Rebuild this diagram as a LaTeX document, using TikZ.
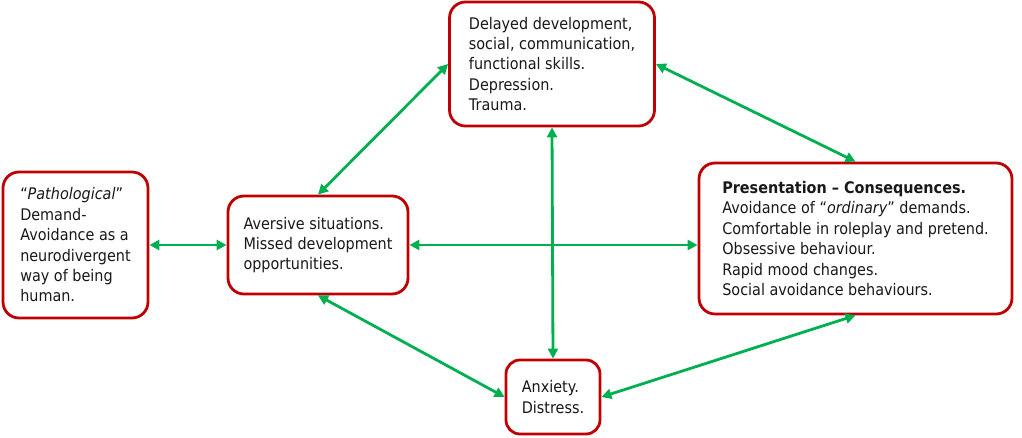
\documentclass[tikz,border=0pt]{standalone}
\usepackage{fontspec}
\setmainfont[FakeStretch=0.9]{DejaVu Sans}
\usetikzlibrary{arrows.meta,positioning}
\definecolor{boxred}{HTML}{C00000}
\definecolor{linkgreen}{HTML}{00B050}

\begin{document}
\begin{tikzpicture}[x=1pt, y=1pt,
		box/.style={draw=boxred, line width=2.8pt, rounded corners=16pt, fill=white, align=left, text=black!90, font=\fontsize{16}{20.4}\selectfont},
		link/.style={draw=linkgreen, line width=2.8pt, {Triangle[length=10pt,width=10pt]}-{Triangle[length=10pt,width=10pt]}},
	]
		\useasboundingbox (0,0) rectangle (1022,437);

		\node (pda) [box, minimum width=145pt, minimum height=146pt] at (75.5,192) {“\textit{Pathological}”\\Demand-\\Avoidance as a\\neurodivergent\\way of being\\human.};
		\node (avers) [box, minimum width=180pt, minimum height=98pt] at (318,192) {Aversive situations.\\Missed development\\opportunities.};
		\node (delay) [box, minimum width=205pt, minimum height=124pt] at (552,373) {Delayed development,\\social, communication,\\functional skills.\\Depression.\\Trauma.};
		\node (pres) [box, minimum width=313pt, minimum height=151pt] at (855.5,198.5) {\textbf{Presentation – Consequences.}\\Avoidance of “\textit{ordinary}” demands.\\Comfortable in roleplay and pretend.\\Obsessive behaviour.\\Rapid mood changes.\\Social avoidance behaviours.};
		\node (anx) [box, minimum width=94pt, minimum height=74pt, rounded corners=14pt] at (553,40) {Anxiety.\\Distress.};

		\draw[link] (pda.east) -- (avers.west);
		\draw[link] (avers.east) -- (avers.east-|pres.west);
		\draw[link] (avers.north) -- (delay.west);
		\draw[link] (avers.south) -- (anx.west);
		\draw[link] (delay.east) -- (pres.north);
		\draw[link] (delay.south) -- (anx.north);
		\draw[link] (anx.east) -- (pres.south);
	\end{tikzpicture}
\end{document}
